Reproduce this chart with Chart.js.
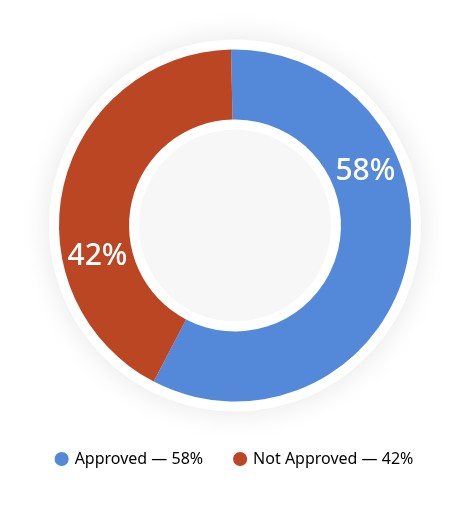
<!DOCTYPE html>
<html>
<head>
<meta charset="utf-8">
<script src="https://cdn.jsdelivr.net/npm/chart.js@4"></script>
<style>
  html, body { margin: 0; padding: 0; background: #ffffff; }
  #wrap { width: 470px; height: 511px; }
</style>
</head>
<body>
<div id="wrap"><canvas id="approval-chart"></canvas></div>
<script>
// values
const categories = ['Approved', 'Not Approved'];
const shares     = [58, 42];
const colors     = ['#5489d9', '#bb4624'];

const FONT = '"Noto Sans", "Open Sans", sans-serif';

/* ----------------------------------------------------------
   Decorations: white disc with soft shadow, grey centre, % labels
   ---------------------------------------------------------- */
const ringDecor = {
  id: 'ringDecor',
  beforeDatasetsDraw(chart) {
    const arc = chart.getDatasetMeta(0).data[0];
    if (!arc) return;
    const { ctx } = chart;
    ctx.save();
    ctx.shadowColor = 'rgba(0,0,0,0.10)';
    ctx.shadowBlur  = 30;
    ctx.fillStyle   = '#ffffff';
    ctx.beginPath();
    ctx.arc(arc.x, arc.y, arc.outerRadius + 10, 0, Math.PI * 2);
    ctx.fill();
    ctx.restore();
  },
  afterDatasetsDraw(chart) {
    const meta = chart.getDatasetMeta(0);
    const { ctx } = chart;
    const first = meta.data[0];
    ctx.save();
    ctx.fillStyle = '#f7f7f7';
    ctx.beginPath();
    ctx.arc(first.x, first.y, first.innerRadius - 10, 0, Math.PI * 2);
    ctx.fill();

    ctx.fillStyle    = '#ffffff';
    ctx.font         = `500 30px ${FONT}`;
    ctx.textAlign    = 'center';
    ctx.textBaseline = 'middle';
    meta.data.forEach((a, i) => {
      const ang = a.startAngle + (a.endAngle - a.startAngle) * 0.33;
      const r   = (a.innerRadius + a.outerRadius) / 2;
      ctx.fillText(`${shares[i]}%`, a.x + r * Math.cos(ang), a.y + r * Math.sin(ang));
    });
    ctx.restore();
  },
};

new Chart(document.getElementById('approval-chart'), {
  type: 'doughnut',
  data: {
    labels: categories,
    datasets: [{
      data: shares,
      backgroundColor: colors,
      borderWidth: 0,
    }],
  },
  options: {
    responsive: true,
    maintainAspectRatio: false,
    animation: false,
    radius: 176,
    cutout: '60.2%',
    rotation: -1.3,
    layout: { padding: { top: 32, bottom: 34 } },
    plugins: {
      tooltip: { enabled: false },
      legend: {
        position: 'bottom',
        labels: {
          usePointStyle: true,
          pointStyle: 'circle',
          boxWidth: 10,
          boxHeight: 10,
          padding: 32,
          color: '#333333',
          font: { family: FONT, size: 16 },
          generateLabels: chart => categories.map((c, i) => ({
            text: `${c} — ${shares[i]}%`,
            fillStyle: colors[i],
            strokeStyle: colors[i],
            lineWidth: 0,
            pointStyle: 'circle',
            index: i,
          })),
        },
      },
    },
  },
  plugins: [ringDecor],
});
</script>
</body>
</html>
